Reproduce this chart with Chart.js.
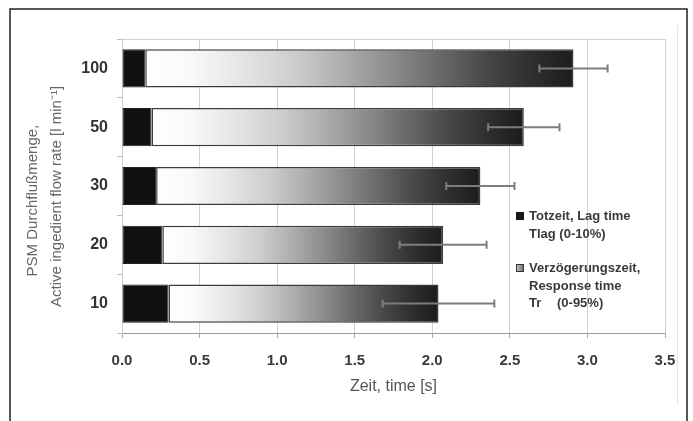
<!DOCTYPE html>
<html lang="de">
<head>
<meta charset="UTF-8">
<title>Totzeit und Verzögerungszeit</title>
<script src="https://cdn.jsdelivr.net/npm/chart.js"></script>
<style>
    html, body { margin: 0; padding: 0; background: #fff; }
    #wrap { width: 693px; height: 421px; position: relative; }
</style>
</head>
<body>
<div id="wrap"><canvas id="flowChart" width="693" height="421"></canvas></div>
<script>
// flow rate categories, top to bottom
const categories = ['100', '50', '30', '20', '10'];
// lag time Tlag (0-10%) [s]
const lagTime = [0.15, 0.19, 0.22, 0.26, 0.30];
// end of response time Tr (0-95%) [s]
const totalTime = [2.91, 2.59, 2.31, 2.07, 2.04];
// +/- spread of the total time [s]
const totalError = [0.22, 0.23, 0.22, 0.28, 0.36];
const xTicks = [0, 0.5, 1.0, 1.5, 2.0, 2.5, 3.0, 3.5];

const responsePart = totalTime.map((t, i) => +(t - lagTime[i]).toFixed(3));

Chart.defaults.font.family = '"Liberation Sans", Arial, sans-serif';

function responseFill(ctx) {
    const chart = ctx.chart;
    if (!chart.chartArea || ctx.dataIndex === undefined) return '#999';
    const xs = chart.scales.x;
    const i = ctx.dataIndex;
    const x0 = xs.getPixelForValue(lagTime[i]);
    const x1 = xs.getPixelForValue(totalTime[i]);
    const g = chart.ctx.createLinearGradient(x0, 0, x1, 0);
    g.addColorStop(0, '#ffffff');
    g.addColorStop(0.1, '#f9f9f9');
    g.addColorStop(0.22, '#e6e6e6');
    g.addColorStop(0.35, '#cdcdcd');
    g.addColorStop(0.47, '#ababab');
    g.addColorStop(0.58, '#8a8a8a');
    g.addColorStop(0.7, '#656565');
    g.addColorStop(0.8, '#474747');
    g.addColorStop(0.9, '#2f2f2f');
    g.addColorStop(1, '#1c1c1c');
    return g;
}

// frame, plot border, error bars and the inside legend
const decorations = {
    id: 'decorations',
    beforeDraw(chart) {
        const c = chart.ctx;
        const a = chart.chartArea;
        c.save();
        c.strokeStyle = '#e6e6e6';
        c.lineWidth = 1;
        c.beginPath();
        c.moveTo(677.5, 25);
        c.lineTo(677.5, 405);
        c.stroke();
        c.strokeStyle = '#cfcfcf';
        c.beginPath();
        c.moveTo(a.left, a.top + 0.5);
        c.lineTo(a.right, a.top + 0.5);
        c.stroke();
        c.restore();
    },
    afterDraw(chart) {
        const c = chart.ctx;
        const xs = chart.scales.x;
        const ys = chart.scales.y;
        c.save();
        // error bars
        c.strokeStyle = '#7d7d7d';
        c.lineWidth = 2;
        categories.forEach((cat, i) => {
            const y = ys.getPixelForValue(i);
            const lo = xs.getPixelForValue(totalTime[i] - totalError[i]);
            const hi = xs.getPixelForValue(totalTime[i] + totalError[i]);
            c.beginPath();
            c.moveTo(lo, y); c.lineTo(hi, y);
            c.moveTo(lo, y - 4); c.lineTo(lo, y + 4);
            c.moveTo(hi, y - 4); c.lineTo(hi, y + 4);
            c.stroke();
        });
        // legend
        c.fillStyle = '#1a1a1a';
        c.fillRect(516, 212, 8, 8);
        const g = c.createLinearGradient(516, 0, 524, 0);
        g.addColorStop(0, '#ccc');
        g.addColorStop(1, '#666');
        c.fillStyle = g;
        c.fillRect(516, 264, 8, 8);
        c.strokeStyle = '#333';
        c.lineWidth = 1;
        c.strokeRect(516.5, 264.5, 7, 7);
        c.fillStyle = '#3a3a3a';
        c.font = 'bold 13px "Liberation Sans", Arial, sans-serif';
        c.textBaseline = 'middle';
        c.textAlign = 'left';
        c.fillText('Totzeit, Lag time', 529, 216);
        c.fillText('Tlag (0-10%)', 529, 234);
        c.fillText('Verzögerungszeit,', 529, 268);
        c.fillText('Response time', 529, 286);
        c.fillText('Tr', 529, 303);
        c.fillText('(0-95%)', 557, 303);
        // outer frame
        c.strokeStyle = '#222';
        c.lineWidth = 1.5;
        c.beginPath();
        c.moveTo(10, 425);
        c.lineTo(10, 9);
        c.lineTo(687, 9);
        c.lineTo(687, 425);
        c.stroke();
        c.restore();
    }
};

new Chart(document.getElementById('flowChart'), {
    type: 'bar',
    data: {
        labels: categories,
        datasets: [
            {
                label: 'Totzeit, Lag time Tlag (0-10%)',
                data: lagTime,
                backgroundColor: '#111',
                borderColor: '#222',
                borderWidth: 1,
                borderSkipped: false
            },
            {
                label: 'Verzögerungszeit, Response time Tr (0-95%)',
                data: responsePart,
                backgroundColor: responseFill,
                borderColor: '#3c3c3c',
                borderWidth: 1.5,
                borderSkipped: false
            }
        ]
    },
    options: {
        indexAxis: 'y',
        responsive: false,
        animation: false,
        barPercentage: 0.65,
        categoryPercentage: 1,
        layout: { padding: { left: 20, right: 28, top: 39, bottom: 20 } },
        plugins: {
            legend: { display: false },
            tooltip: { enabled: false }
        },
        scales: {
            x: {
                stacked: true,
                min: 0,
                max: 3.5,
                afterBuildTicks: s => { s.ticks = xTicks.map(v => ({ value: v })); },
                afterFit: s => { s.height = 68; },
                ticks: {
                    padding: 14,
                    color: '#3a3a3a',
                    font: { size: 15, weight: 'bold' },
                    callback: v => Number(v).toFixed(1)
                },
                grid: { color: '#d2d2d2', lineWidth: 1, tickLength: 5, tickColor: '#aaa' },
                border: { color: '#9a9a9a', width: 1 },
                title: {
                    display: true,
                    text: 'Zeit, time [s]',
                    color: '#555',
                    font: { size: 16 },
                    padding: { top: 0, bottom: 5 }
                }
            },
            y: {
                stacked: true,
                afterFit: s => { s.width = 102; },
                ticks: {
                    padding: 9,
                    color: '#333',
                    font: { size: 16, weight: 'bold' }
                },
                grid: { drawOnChartArea: false, tickLength: 5, color: '#bbb' },
                border: { color: '#d0d0d0', width: 1 },
                title: {
                    display: true,
                    // trailing spaces nudge the rotated lines down like the original
                    text: ['PSM Durchflußmenge,       ', 'Active ingedient flow rate [l min⁻¹]     '],
                    color: '#666',
                    font: { size: 15, lineHeight: 1.6 },
                    padding: { top: 1, bottom: 0 }
                }
            }
        }
    },
    plugins: [decorations]
});
</script>
</body>
</html>
